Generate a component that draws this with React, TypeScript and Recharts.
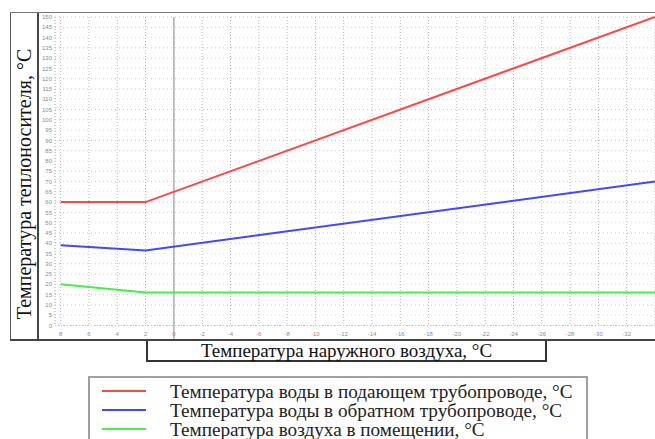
import { LineChart, Line, XAxis, YAxis, CartesianGrid, ReferenceLine } from "recharts"

// outdoor air temperature, °C (x axis runs from warm to cold)
const outdoorTemps = [8, 2, -34]
const supplyWater = [60, 60, 150]
const returnWater = [39, 36.5, 70]
const indoorAir = [20, 16, 16]

const xTicks = [8, 6, 4, 2, 0, -2, -4, -6, -8, -10, -12, -14, -16, -18, -20, -22, -24, -26, -28, -30, -32]
const yTicks = [0, 5, 10, 15, 20, 25, 30, 35, 40, 45, 50, 55, 60, 65, 70, 75, 80, 85, 90, 95, 100, 105, 110, 115, 120, 125, 130, 135, 140, 145, 150]

const seriesKeys = ["supply", "return", "indoor"]
const seriesColors = ["#ff4646", "#4646ff", "#46f046"]
const seriesNames = [
  "Температура воды в подающем трубопроводе, °C",
  "Температура воды в обратном трубопроводе, °C",
  "Температура воздуха в помещении, °C",
]

const yTitle = "Температура теплоносителя, °C"
const xTitle = "Температура наружного воздуха, °C"

const rows = outdoorTemps.map((t, i) => ({
  t,
  supply: supplyWater[i],
  return: returnWater[i],
  indoor: indoorAir[i],
}))

const gridColors = ["#f0b4b4", "#e4e4a4", "#cccccc"]
const serif = '"Liberation Serif", "DejaVu Serif", serif'
const tickStyle = { fontSize: 6, fill: "#8c8c8c", fontFamily: '"Liberation Sans", sans-serif' }

export default function App() {
  return (
    <div
      style={{
        position: "absolute",
        left: 0,
        top: 0,
        width: 655,
        height: 439,
        overflow: "hidden",
        background: "#fff",
        fontFamily: serif,
      }}
    >
      {/* left title panel */}
      <div
        style={{
          position: "absolute",
          left: 10,
          top: 12,
          width: 26,
          height: 328,
          borderLeft: "1px solid #555",
          borderRight: "2px solid #444",
        }}
      />
      <div
        style={{
          position: "absolute",
          left: 24,
          top: 184,
          transform: "translate(-50%, -50%) rotate(-90deg)",
          whiteSpace: "nowrap",
          fontSize: 20,
          color: "#111",
        }}
      >
        {yTitle}
      </div>

      <LineChart
        width={617}
        height={327}
        data={rows}
        margin={{ top: 4, right: 0, bottom: 0, left: 0 }}
        style={{ position: "absolute", left: 38, top: 13 }}
      >
        <CartesianGrid horizontal={false} stroke="#b8b8b8" strokeDasharray="1 2" />
        {yTicks.map((v, i) => (
          <ReferenceLine
            key={v}
            y={v}
            stroke={gridColors[i % gridColors.length]}
            strokeDasharray="1 3"
          />
        ))}
        <ReferenceLine
          segment={[{ x: 0, y: -7 }, { x: 0, y: 150 }]}
          ifOverflow="visible"
          stroke="#b0b0b0"
          strokeWidth={1.5}
        />
        <XAxis
          dataKey="t"
          type="number"
          domain={[-34, 8.4]}
          reversed
          ticks={xTicks}
          interval={0}
          allowDataOverflow
          height={14.5}
          tickLine={false}
          tickSize={0}
          axisLine={{ stroke: "#c4c4c4", strokeDasharray: "1 2" }}
          tickMargin={6}
          tick={tickStyle}
        />
        <YAxis
          type="number"
          domain={[0, 150]}
          ticks={yTicks}
          interval={0}
          width={17}
          tickLine={false}
          tickSize={0}
          axisLine={{ stroke: "#c4c4c4", strokeDasharray: "1 2" }}
          tickMargin={3}
          tick={tickStyle}
        />
        {seriesKeys.map((k, i) => (
          <Line
            key={k}
            dataKey={k}
            type="linear"
            stroke={seriesColors[i]}
            strokeWidth={2}
            dot={false}
            isAnimationActive={false}
          />
        ))}
      </LineChart>

      {/* plot frame */}
      <div style={{ position: "absolute", left: 10, top: 12, width: 645, height: 0, borderTop: "1.5px solid #777" }} />
      <div style={{ position: "absolute", left: 10, top: 339, width: 645, height: 0, borderTop: "2px solid #444" }} />

      {/* x axis title box */}
      <div
        style={{
          position: "absolute",
          left: 146,
          top: 341,
          width: 397,
          height: 19,
          borderLeft: "2px solid #333",
          borderRight: "2px solid #333",
          borderBottom: "2px solid #333",
          textAlign: "center",
          fontSize: 19,
          lineHeight: "20px",
          color: "#111",
          whiteSpace: "nowrap",
        }}
      >
        {xTitle}
      </div>

      {/* legend */}
      <div
        style={{
          position: "absolute",
          left: 88,
          top: 376,
          width: 496,
          height: 70,
          border: "2px solid #a0a0a0",
        }}
      >
        {seriesNames.map((name, i) => (
          <div
            key={name}
            style={{
              position: "absolute",
              left: 12,
              top: 3.5 + i * 19.2,
              height: 19,
              display: "flex",
              alignItems: "center",
              whiteSpace: "nowrap",
            }}
          >
            <span style={{ display: "inline-block", width: 44, height: 2, background: seriesColors[i] }} />
            <span style={{ marginLeft: 24, fontSize: 19.2, lineHeight: "19px", color: "#222" }}>{name}</span>
          </div>
        ))}
      </div>
    </div>
  )
}
